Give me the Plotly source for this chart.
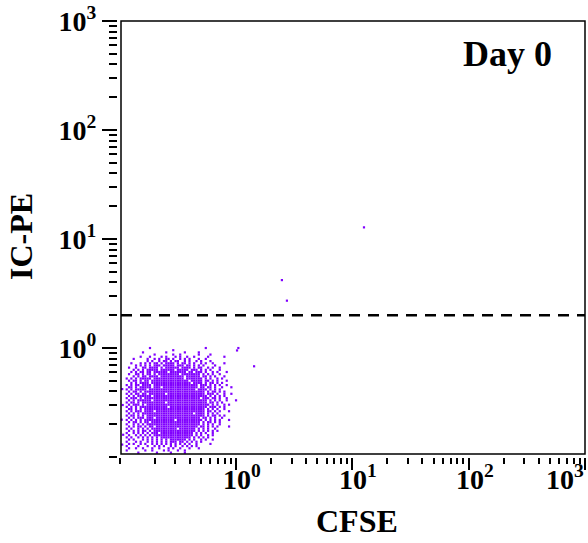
import math
import plotly.graph_objects as go

# ---------------- data ----------------
# Main cell population (Day 0), transcribed from the picture as an occupancy grid.
# Row 0 is the top row; each '#' is an event. Grid origin / step are in log10 units.
GRID_X0_LOG = -0.94   # log10(CFSE) of column 0
GRID_Y0_LOG = 0.0     # log10(IC-PE) of row 0
GRID_STEP_LOG = 0.02  # log10 step between cells
cloud_rows = [
    "..........#.......................#.............#.",
    "....................#...........................",
    ".......#.........#.......#.....#................",
    "............#.......#..#.......#....#...........",
    "......#...#....#.#...#.#..#..#.....#......#.....",
    "...#.....#..#.#..##.#..#.#.#...#..#.............",
    ".........#.#..#.##.#.##..#.#..#.#...#...........",
    "..#...#.#.#.##.#.####.#.##.#.#..#.#..#....#.....",
    "....#.#.#.#.###.#####.###.##.#.#.#....#.........",
    ".#..#..##.####.#.######.####.#.##..#.#..#.......",
    "...#.#.#.#####.######.#####.###.#.#.#...#.......",
    "..#.#.##.##.######.#######.##.###.#..#.#...#....",
    ".#..##.#.##.#.#########.########.#.#.#..#.......",
    "...#.#.##.####.##########.######.##.#.#...#.....",
    "#.#.#.#####.#############.#######.#.#..#.#......",
    ".#.##.#.##.################.#####.##.#.#...#....",
    "..#.#.####.#################.####.#.##.#.#......",
    "#.#.##.####.###################.###.#.#.#..#....",
    ".##.#.#####.###.###############.##.##.#..#...#..",
    "#.#.#####.####################.####.#.#.#.......",
    ".#.##.#.##########################.#.##.#.#.....",
    "#.#.##.##.#######.################.###.#..#..#..",
    ".#.#.######.#######################.#.#.#.#.....",
    "#.###.#.########################.###.##.#..#....",
    ".#.#.######.#######################.#.#.#..#...#",
    "#.##.#.##########.#################.##.#.#......",
    ".#.###.#.###########################.#.#..#.#...",
    "#.#.#.############.################.###.#.#.....",
    ".##.#.#.##########################.#.#.#..#.....",
    "#.#.###.####.#####################.##.#.#...#...",
    ".#.#.#.######################.####.#.#.#........",
    "#.##.#.#.#########################.#.##.#.#.....",
    ".#.#.###.###.###################.##.#.#..#......",
    "#.#.#.#.#############.###########.#.#.#.#...#...",
    ".#.##.#.##.#####################.#.##.#.#.......",
    "#..#.#.#.#######################.#.#.#..#......",
    ".#.#.##.#.##.##################.##.#.#.#....#...",
    "#.#..#.#.#.###########.#######.#.#.#..#........",
    ".#.#.#.##.#.##################.#.#.#.#.#.......",
    "#..#.#.#.#.###.##############.#.#.#..#.........",
    ".#..#.#.#.#.#################.#.#..#.#.........",
    "#.#..#.#.#.#.#.#############.#.#.#.#...........",
    ".#.#...#.#.#.#.#.#.#######.#.#..#.#..#.........",
    "#...#.#..#.#.#.#.#.###.##.#.#.#.#..............",
    ".#.#..#.#..#.#.#.#.#.#.#.#.#..#.....#..........",
    "#....#...#..#.#.#..#.#..#.#.#.#................",
    ".#..#..#...#..#...#.#..#...#...#...............",
    "#.......#..#....#.#...#..#.....................",
    ".....#.......#.....#.....#......................",
]
# isolated events (incl. a few at the low edge of the CFSE axis)
outlier_cfse = [12.6, 2.48, 2.74, 1.02, 1.43, 0.105, 0.106, 0.104, 0.107, 0.105]
outlier_icpe = [12.8, 4.2, 2.72, 0.95, 0.68, 0.42, 0.30, 0.22, 0.16, 0.13]

gate_icpe = 2.0  # dashed gate line

tick_vals = [1, 10, 100, 1000]
tick_text = ["10<sup>0</sup>", "10<sup>1</sup>", "10<sup>2</sup>", "10<sup>3</sup>"]

x_title = "CFSE"
y_title = "IC-PE"
panel_label = "Day 0"

# ---------------- build ----------------
cx, cy = [], []
for i, row in enumerate(cloud_rows):
    for j, ch in enumerate(row):
        if ch == "#":
            cx.append(10 ** (GRID_X0_LOG + GRID_STEP_LOG * j))
            cy.append(10 ** (GRID_Y0_LOG - GRID_STEP_LOG * i))

PURPLE = "#8000ff"
SERIF = "Liberation Serif"

fig = go.Figure()
fig.add_trace(go.Scatter(
    x=cx + outlier_cfse, y=cy + outlier_icpe, mode="markers",
    marker=dict(symbol="square", size=2.2, color=PURPLE, line=dict(width=0)),
    hoverinfo="skip", showlegend=False))

W, H = 588, 543
ML, MR, MT, MB = 118, 3, 21, 86
pw, ph = W - ML - MR, H - MT - MB
gx = 3 / pw
gy = 3 / ph

tickfont = dict(family=SERIF, size=28, color="black", weight="bold")

def py(pix):
    """figure pixel row -> paper y"""
    return (H - MB - pix) / ph

annotations = []
# x tick labels (the "10" is centred on the tick; last one kept inside the figure)
for k, (v, t) in enumerate(zip(tick_vals, tick_text)):
    last = k == len(tick_vals) - 1
    annotations.append(dict(
        text=t, xref="x", yref="paper", x=math.log10(v), y=py(458),
        xanchor="right" if last else "center", yanchor="top",
        xshift=1 if last else 6, showarrow=False, font=tickfont))

annotations += [
    dict(text=x_title, xref="paper", yref="paper", x=(357 - ML) / pw,
         y=py(521), showarrow=False, xanchor="center", yanchor="middle",
         font=dict(family=SERIF, size=32, color="black", weight="bold")),
    dict(text=y_title, xref="paper", yref="paper", x=(21 - ML) / pw,
         y=py(237), showarrow=False, textangle=-90,
         xanchor="center", yanchor="middle",
         font=dict(family=SERIF, size=32, color="black", weight="bold")),
    dict(text=panel_label, xref="paper", yref="paper", x=(507 - ML) / pw,
         y=py(54), showarrow=False, xanchor="center", yanchor="middle",
         font=dict(family=SERIF, size=36, color="black", weight="bold")),
]

fig.update_layout(
    width=W, height=H,
    margin=dict(l=ML, r=MR, t=MT, b=MB, pad=0),
    paper_bgcolor="white", plot_bgcolor="white",
    showlegend=False,
    xaxis=dict(type="log", range=[-1.015, 3.001], showgrid=False, zeroline=False,
               showline=False, ticks="outside", ticklen=12, tickwidth=1.5,
               tickcolor="black", tickmode="array", tickvals=tick_vals,
               showticklabels=False,
               minor=dict(ticks="outside", ticklen=6, tickwidth=1.5,
                          tickcolor="black", dtick="D1", showgrid=False)),
    yaxis=dict(type="log", range=[-1.0, 3.001], showgrid=False, zeroline=False,
               showline=False, ticks="outside", ticklen=15, tickwidth=1.5,
               tickcolor="black", tickmode="array", tickvals=tick_vals,
               ticktext=tick_text, tickfont=tickfont,
               minor=dict(ticks="outside", ticklen=8, tickwidth=1.5,
                          tickcolor="black", dtick="D1", showgrid=False)),
    shapes=[
        dict(type="rect", xref="paper", yref="paper", x0=gx, x1=1, y0=gy, y1=1,
             line=dict(color="black", width=1.5), fillcolor="rgba(0,0,0,0)"),
        dict(type="line", xref="paper", yref="y", x0=gx, x1=1,
             y0=gate_icpe, y1=gate_icpe,
             line=dict(color="black", width=2.5, dash="11px,8px")),
    ],
    annotations=annotations,
)

fig.write_html("out.html")
